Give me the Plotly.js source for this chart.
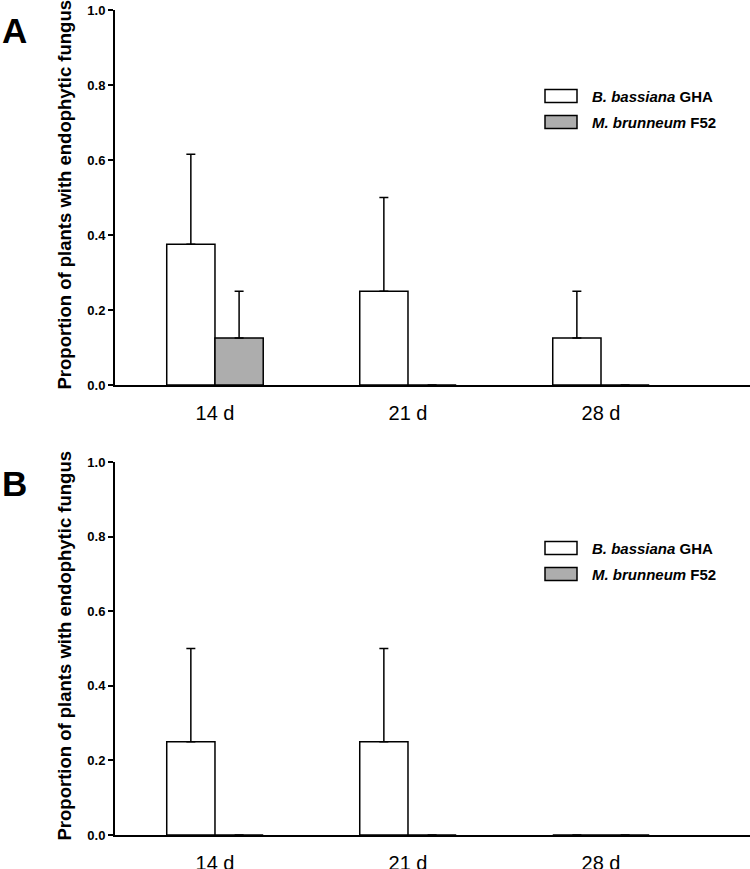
<!DOCTYPE html>
<html>
<head>
<meta charset="utf-8">
<script src="https://cdn.plot.ly/plotly-3.0.1.min.js"></script>
<style>html,body{margin:0;padding:0;background:#fff;}#chart{width:750px;height:869px;}</style>
</head>
<body>
<div id="chart"></div>
<script>
// Data
const categories = ['14 d', '21 d', '28 d'];
const seriesNames = ['<i>B. bassiana</i> GHA', '<i>M. brunneum</i> F52'];
// Panel A
const aBassiana = [0.375, 0.25, 0.125];
const aBassianaErr = [0.24, 0.25, 0.125];
const aBrunneum = [0.125, 0, 0];
const aBrunneumErr = [0.125, 0, 0];
// Panel B
const bBassiana = [0.25, 0.25, 0];
const bBassianaErr = [0.25, 0.25, 0];
const bBrunneum = [0, 0, 0];
const bBrunneumErr = [0, 0, 0];
const yTicks = [0, 0.2, 0.4, 0.6, 0.8, 1.0];
const yTitle = 'Proportion of plants with endophytic fungus';

const FONT = '"Liberation Sans", Arial, sans-serif';
const W = 750, H = 869;
const px = x => x / W;
const py = y => 1 - y / H;

function barTrace(xa, ya, y, err, color) {
  return {
    type: 'bar', x: categories, y: y, xaxis: xa, yaxis: ya,
    marker: {color: color, line: {color: '#000', width: 1.5}},
    error_y: {type: 'data', symmetric: false, array: err, arrayminus: err.map(() => 0),
              color: '#000', thickness: 1.5, width: 4.5},
    showlegend: false, hoverinfo: 'skip'
  };
}

const data = [
  barTrace('x', 'y', aBassiana, aBassianaErr, '#ffffff'),
  barTrace('x', 'y', aBrunneum, aBrunneumErr, '#adadad'),
  barTrace('x2', 'y2', bBassiana, bBassianaErr, '#ffffff'),
  barTrace('x2', 'y2', bBrunneum, bBrunneumErr, '#adadad')
];

function xAxis(anchor) {
  return {
    anchor: anchor, domain: [px(115), 1], range: [-0.518, 2.772],
    showline: true, linecolor: '#000', linewidth: 2, showgrid: false, zeroline: false,
    ticks: '', ticklabelstandoff: 9,
    tickfont: {family: FONT, size: 20, color: '#000'}, fixedrange: true
  };
}
function yAxis(anchor, top, bottom) {
  return {
    anchor: anchor, domain: [py(bottom), py(top)], range: [0, 1],
    tickvals: yTicks, tickformat: '.1f',
    showline: true, linecolor: '#000', linewidth: 2, showgrid: false, zeroline: false,
    ticks: 'outside', ticklen: 5, tickwidth: 2, tickcolor: '#000',
    tickfont: {family: FONT, size: 13, color: '#000', weight: 'bold'}, fixedrange: true
  };
}

const panels = [
  {letter: 'A', top: 10, bottom: 385},
  {letter: 'B', top: 462, bottom: 835}
];

const shapes = [];
const annotations = [];
panels.forEach((p, i) => {
  // panel letter
  annotations.push({xref: 'paper', yref: 'paper', x: px(14), y: py(p.top + 21),
    xanchor: 'center', yanchor: 'middle', text: p.letter, showarrow: false,
    font: {family: FONT, size: 35, color: '#000', weight: 'bold'}});
  // y title
  annotations.push({xref: 'paper', yref: 'paper', x: px(64), y: py((p.top + p.bottom) / 2 - 3),
    xanchor: 'center', yanchor: 'middle', textangle: -90, text: yTitle, showarrow: false,
    font: {family: FONT, size: 18.5, color: '#000', weight: 'bold'}});
  // legend
  const colors = ['#ffffff', '#adadad'];
  seriesNames.forEach((name, j) => {
    const cy = p.top + 86 + j * 26;
    shapes.push({type: 'rect', xref: 'paper', yref: 'paper',
      x0: px(545), x1: px(577), y0: py(cy - 6.5), y1: py(cy + 6.5),
      fillcolor: colors[j], line: {color: '#000', width: 1.5}});
    annotations.push({xref: 'paper', yref: 'paper', x: px(590), y: py(cy),
      xanchor: 'left', yanchor: 'middle', text: name, showarrow: false,
      font: {family: FONT, size: 15, color: '#000', weight: 'bold'}});
  });
});

const layout = {
  width: W, height: H,
  margin: {l: 0, r: 0, t: 0, b: 0},
  paper_bgcolor: '#fff', plot_bgcolor: '#fff',
  barmode: 'group', bargap: 0.5, bargroupgap: 0,
  showlegend: false,
  xaxis: xAxis('y'), yaxis: yAxis('x', 10, 385),
  xaxis2: xAxis('y2'), yaxis2: yAxis('x2', 462, 835),
  shapes: shapes, annotations: annotations
};

Plotly.newPlot('chart', data, layout, {displayModeBar: false, staticPlot: true});
</script>
</body>
</html>
